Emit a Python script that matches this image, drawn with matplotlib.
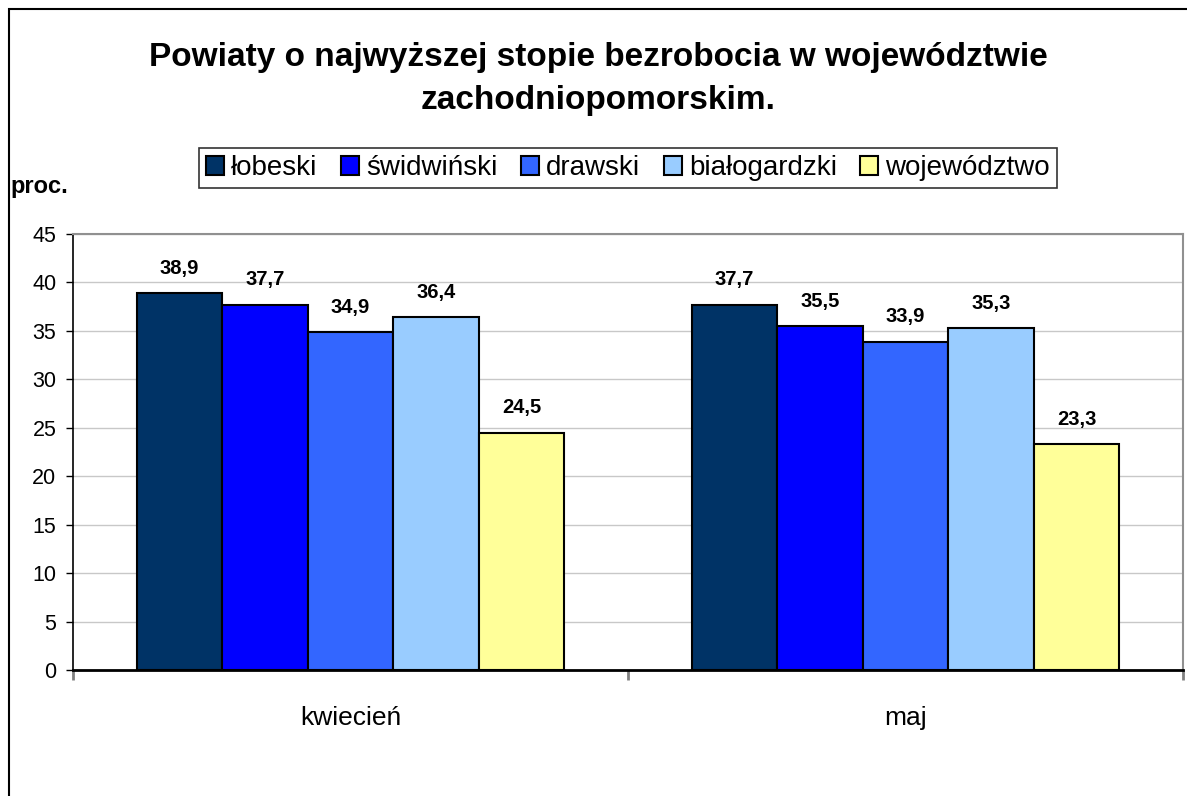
import matplotlib
matplotlib.use("Agg")
import matplotlib.pyplot as plt
from matplotlib.patches import Rectangle
import numpy as np

plt.rcParams["font.family"] = ["Liberation Sans", "DejaVu Sans"]

# dane
months = ["kwiecień", "maj"]
series = ["łobeski", "świdwiński", "drawski", "białogardzki", "województwo"]
values = [
    [38.9, 37.7],
    [37.7, 35.5],
    [34.9, 33.9],
    [36.4, 35.3],
    [24.5, 23.3],
]
labels = [
    ["38,9", "37,7"],
    ["37,7", "35,5"],
    ["34,9", "33,9"],
    ["36,4", "35,3"],
    ["24,5", "23,3"],
]
colors = ["#003366", "#0000FF", "#3366FF", "#99CCFF", "#FFFF99"]
yticks = np.arange(0, 46, 5)

fig = plt.figure(figsize=(11.87, 7.96), dpi=100)
ax = fig.add_axes([73 / 1187, 1 - 670 / 796, 1110 / 1187, 436 / 796])

# obramowanie wykresu (przycięte z prawej i z dołu)
fig.patches.append(Rectangle((9 / 1187, -0.1), 1.2, 1 - 9 / 796 + 0.1,
                             transform=fig.transFigure, fill=False,
                             edgecolor="black", lw=1.5))

centers = np.arange(len(months)) + 0.5
group_w = 0.77
w = group_w / len(series)
for i, (name, vals, labs, c) in enumerate(zip(series, values, labels, colors)):
    x = centers - group_w / 2 + w * (i + 0.5)
    ax.bar(x, vals, width=w, color=c, edgecolor="black", lw=1.5,
           label=name, zorder=3)
    for xi, v, lab in zip(x, vals, labs):
        ax.annotate(lab, (xi, v), xytext=(0, 11), textcoords="offset points",
                    ha="center", va="bottom", fontsize=14.5, fontweight="bold")

ax.set_xlim(0, 2)
ax.set_ylim(0, 45)
ax.set_yticks(yticks)
ax.tick_params(axis="y", labelsize=15.5, length=5, width=1, direction="out", pad=7)
ax.set_xticks([0, 1, 2])
ax.set_xticklabels([])
ax.tick_params(axis="x", which="major", length=7, width=2, color="#808080")
ax.set_xticks(centers, minor=True)
ax.set_xticklabels(months, minor=True)
ax.tick_params(axis="x", which="minor", length=0, labelsize=19, pad=26)
ax.grid(axis="y", color="#C8C8C8", lw=1, zorder=0)
for s in ["top", "right"]:
    ax.spines[s].set_color("#909090")
    ax.spines[s].set_linewidth(1.5)
ax.spines["left"].set_linewidth(1.2)
ax.spines["bottom"].set_linewidth(2)

fig.text(598 / 1187, 1 - 79 / 796,
         "Powiaty o najwyższej stopie bezrobocia w województwie\nzachodniopomorskim.",
         ha="center", va="center", fontsize=24, fontweight="bold", linespacing=1.5)
fig.text(10 / 1187, 1 - 186 / 796, "proc.", ha="left", va="center",
         fontsize=17, fontweight="bold")

leg = fig.legend(loc="center", bbox_to_anchor=(628 / 1187, 1 - 168 / 796),
                 ncol=5, fontsize=20, frameon=True, fancybox=False,
                 edgecolor="black", handlelength=0.65, handleheight=0.65,
                 handletextpad=0.25, columnspacing=0.85, borderpad=0.25)
leg.get_frame().set_linewidth(1.2)

fig.savefig("out.png", dpi=100)
